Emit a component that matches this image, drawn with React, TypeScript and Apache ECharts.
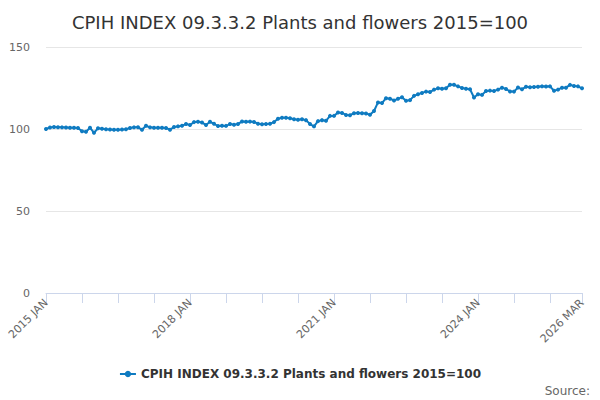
import React, { useEffect, useRef } from "react";
import * as echarts from "echarts";

const MONTHS = ["JAN", "FEB", "MAR", "APR", "MAY", "JUN", "JUL", "AUG", "SEP", "OCT", "NOV", "DEC"];
const START_YEAR = 2015;
const COUNT = 135;
const categories: string[] = [];
for (let i = 0; i < COUNT; i++) {
  categories.push(`${START_YEAR + Math.floor(i / 12)} ${MONTHS[i % 12]}`);
}

const values2015 = [100.0, 100.9, 101.2, 101.1, 101.0, 100.9, 100.8, 100.8, 100.6, 98.6, 98.3, 100.8];
const values2016 = [97.7, 100.4, 100.2, 99.8, 99.7, 99.6, 99.6, 99.7, 99.9, 100.6, 101.0, 101.1];
const values2017 = [99.5, 102.0, 101.0, 100.8, 100.7, 100.8, 100.6, 99.6, 101.2, 101.6, 102.0, 103.0];
const values2018 = [102.4, 104.2, 104.4, 104.0, 102.4, 104.4, 103.2, 101.8, 102.0, 101.9, 103.0, 102.6];
const values2019 = [103.0, 104.6, 104.4, 104.5, 104.3, 103.2, 102.9, 103.1, 103.2, 104.2, 106.3, 106.8];
const values2020 = [106.8, 106.6, 106.0, 105.6, 106.0, 105.4, 103.0, 101.6, 104.8, 105.4, 105.0, 108.0];
const values2021 = [108.0, 110.0, 109.8, 108.6, 108.4, 109.6, 109.8, 109.6, 109.4, 108.7, 111.0, 116.2];
const values2022 = [115.8, 118.8, 118.5, 117.4, 118.4, 119.4, 117.2, 117.6, 120.2, 121.2, 122.0, 122.8];
const values2023 = [122.5, 124.0, 124.8, 124.6, 124.8, 127.0, 127.0, 126.0, 125.0, 124.6, 124.2, 119.2];
const values2024 = [121.2, 120.8, 123.2, 123.4, 123.2, 124.0, 125.2, 124.4, 122.9, 122.8, 125.3, 124.2];
const values2025 = [125.8, 125.4, 125.6, 125.8, 126.0, 125.9, 126.0, 123.3, 124.0, 125.2, 125.2, 126.9];
const values2026 = [126.2, 126.0, 124.8];

const seriesValues = [
  ...values2015, ...values2016, ...values2017, ...values2018, ...values2019, ...values2020,
  ...values2021, ...values2022, ...values2023, ...values2024, ...values2025, ...values2026,
];

const labelIndices = [0, 36, 72, 108, 134];
const TITLE = "CPIH INDEX 09.3.3.2 Plants and flowers 2015=100";

export default function App() {
  const ref = useRef<HTMLDivElement>(null);
  useEffect(() => {
    document.body.style.margin = "0";
    if (!ref.current) return;
    const chart = echarts.init(ref.current, undefined, { renderer: "svg" });
    const font = "'DejaVu Sans', sans-serif";
    chart.setOption({
      animation: false,
      textStyle: { fontFamily: font },
      title: {
        text: TITLE,
        left: "center",
        top: 8,
        textStyle: { fontFamily: font, fontSize: 18, fontWeight: "normal", color: "#333333" },
      },
      legend: {
        bottom: 15,
        left: "center",
        itemWidth: 16,
        itemHeight: 8,
        textStyle: { fontFamily: font, fontSize: 12, fontWeight: "bold", color: "#333333" },
        data: [TITLE],
      },
      graphic: [
        {
          type: "text",
          right: 10,
          bottom: 3,
          style: { text: "Source:", fontFamily: font, fontSize: 12, fill: "#666666" },
        },
      ],
      grid: { left: 46, right: 18, top: 47, bottom: 107, containLabel: false },
      xAxis: {
        type: "category",
        data: categories,
        boundaryGap: false,
        axisLine: { show: true, lineStyle: { color: "#ccd6eb" } },
        axisTick: {
          show: true,
          length: 10,
          lineStyle: { color: "#ccd6eb" },
          interval: (i: number) => i % 9 === 0 || i === COUNT - 1,
        },
        axisLabel: {
          rotate: 45,
          color: "#666666",
          fontSize: 11,
          fontFamily: font,
          interval: (i: number) => labelIndices.includes(i),
          margin: 8,
        },
        splitLine: { show: false },
      },
      yAxis: {
        type: "value",
        min: 0,
        max: 150,
        interval: 50,
        axisLine: { show: false },
        axisTick: { show: false },
        axisLabel: { color: "#666666", fontSize: 11, fontFamily: font, margin: 16 },
        splitLine: { lineStyle: { color: "#e6e6e6" } },
      },
      series: [
        {
          name: TITLE,
          type: "line",
          data: seriesValues,
          symbol: "circle",
          symbolSize: 4,
          showSymbol: true,
          showAllSymbol: true,
          itemStyle: { color: "#0f7bc1" },
          lineStyle: { color: "#0f7bc1", width: 2 },
        },
      ],
    });
    return () => chart.dispose();
  }, []);
  return <div ref={ref} style={{ width: 600, height: 400 }} />;
}
